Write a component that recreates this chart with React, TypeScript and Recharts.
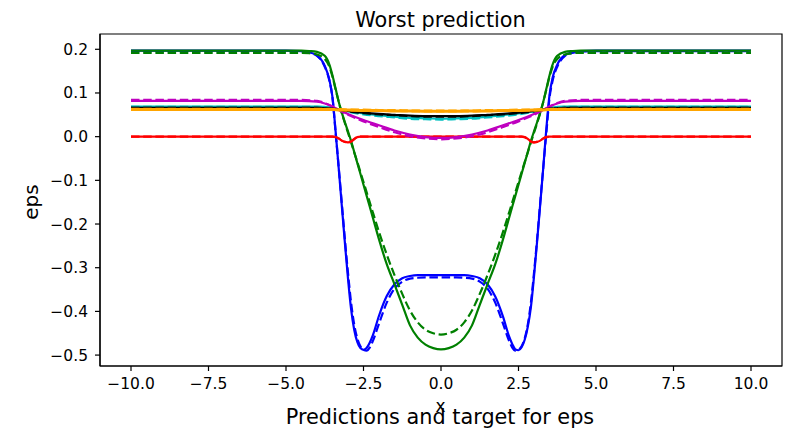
import React from "react";
import { LineChart, Line, XAxis, YAxis, ReferenceArea } from "recharts";

// ---- x grids ----
const X_STEEP = [-10, -8, -6, -5, -4.5, -4.25, -4, -3.75, -3.6, -3.5, -3.4, -3.3, -3.2, -3.1, -3, -2.9, -2.8, -2.7, -2.6, -2.5, -2.4, -2.3, -2.2, -2, -1.75, -1.5, -1.25, -1, -0.75, -0.5, -0.25, 0,
  0.25, 0.5, 0.75, 1, 1.25, 1.5, 1.75, 2, 2.2, 2.3, 2.4, 2.5, 2.6, 2.7, 2.8, 2.9, 3, 3.1, 3.2, 3.3, 3.4, 3.5, 3.6, 3.75, 4, 4.25, 4.5, 5, 6, 8, 10];
const X_SMOOTH = [-10, -8, -6, -5, -4.5, -4, -3.75, -3.5, -3.25, -3, -2.5, -2, -1.5, -1, -0.5, 0, 0.5, 1, 1.5, 2, 2.5, 3, 3.25, 3.5, 3.75, 4, 4.5, 5, 6, 8, 10];
const X_RED = [-10, -5, -3.5, -3.4, -3.3, -3.2, -3.1, -3, -2.9, -2.8, -2.7, -2.6, -2.5, 0, 2.5, 2.6, 2.7, 2.8, 2.9, 3, 3.1, 3.2, 3.3, 3.4, 3.5, 5, 10];

// ---- series values ----
const BLUE_TARGET = [0.197, 0.197, 0.197, 0.197, 0.196, 0.193, 0.186, 0.162, 0.13, 0.09, 0.012, -0.072, -0.158, -0.243, -0.325, -0.395, -0.442, -0.47, -0.484, -0.488, -0.484, -0.472, -0.455, -0.41, -0.365, -0.338, -0.324, -0.319, -0.317, -0.317, -0.317, -0.317,
  -0.317, -0.317, -0.317, -0.319, -0.324, -0.338, -0.366, -0.412, -0.458, -0.475, -0.487, -0.489, -0.482, -0.465, -0.435, -0.39, -0.32, -0.24, -0.155, -0.07, 0.02, 0.095, 0.135, 0.165, 0.187, 0.193, 0.196, 0.197, 0.197, 0.197, 0.197];
const BLUE_PRED = [0.196, 0.196, 0.196, 0.196, 0.195, 0.192, 0.185, 0.16, 0.128, 0.088, 0.01, -0.07, -0.152, -0.235, -0.312, -0.38, -0.43, -0.462, -0.48, -0.488, -0.49, -0.483, -0.468, -0.428, -0.38, -0.348, -0.332, -0.325, -0.323, -0.322, -0.322, -0.322,
  -0.322, -0.322, -0.323, -0.325, -0.332, -0.348, -0.38, -0.428, -0.468, -0.483, -0.49, -0.488, -0.48, -0.462, -0.43, -0.38, -0.312, -0.235, -0.152, -0.07, 0.01, 0.088, 0.128, 0.16, 0.185, 0.192, 0.195, 0.196, 0.196, 0.196, 0.196];
const GREEN_TARGET = [0.197, 0.197, 0.197, 0.197, 0.197, 0.196, 0.194, 0.185, 0.165, 0.14, 0.11, 0.08, 0.055, 0.033, 0.012, -0.01, -0.035, -0.06, -0.085, -0.11, -0.135, -0.16, -0.185, -0.235, -0.292, -0.338, -0.385, -0.432, -0.46, -0.476, -0.484, -0.487,
  -0.484, -0.476, -0.46, -0.432, -0.385, -0.338, -0.292, -0.235, -0.185, -0.16, -0.135, -0.11, -0.085, -0.06, -0.035, -0.01, 0.012, 0.033, 0.055, 0.08, 0.11, 0.14, 0.165, 0.185, 0.194, 0.196, 0.197, 0.197, 0.197, 0.197, 0.197];
const GREEN_PRED = [0.192, 0.192, 0.192, 0.192, 0.192, 0.191, 0.188, 0.178, 0.16, 0.137, 0.108, 0.08, 0.054, 0.031, 0.009, -0.013, -0.036, -0.058, -0.081, -0.104, -0.127, -0.15, -0.173, -0.218, -0.27, -0.317, -0.36, -0.398, -0.425, -0.442, -0.45, -0.453,
  -0.45, -0.442, -0.425, -0.398, -0.36, -0.317, -0.27, -0.218, -0.173, -0.15, -0.127, -0.104, -0.081, -0.058, -0.036, -0.013, 0.009, 0.031, 0.054, 0.08, 0.108, 0.137, 0.16, 0.178, 0.188, 0.191, 0.192, 0.192, 0.192, 0.192, 0.192];

const MAGENTA_TARGET = [0.082, 0.082, 0.082, 0.082, 0.082, 0.08, 0.076, 0.069, 0.06, 0.052, 0.038, 0.026, 0.014, 0.005, -0.001, -0.003, -0.001, 0.005, 0.014, 0.026, 0.038, 0.052, 0.06, 0.069, 0.076, 0.08, 0.082, 0.082, 0.082, 0.082, 0.082];
const MAGENTA_PRED = [0.084, 0.084, 0.084, 0.084, 0.084, 0.082, 0.077, 0.069, 0.059, 0.05, 0.035, 0.022, 0.01, 0.001, -0.004, -0.006, -0.004, 0.001, 0.01, 0.022, 0.035, 0.05, 0.059, 0.069, 0.077, 0.082, 0.084, 0.084, 0.084, 0.084, 0.084];
const CYAN_TARGET = [0.069, 0.069, 0.069, 0.069, 0.069, 0.069, 0.068, 0.066, 0.061, 0.058, 0.053, 0.049, 0.046, 0.043, 0.042, 0.041, 0.042, 0.043, 0.046, 0.049, 0.053, 0.058, 0.061, 0.066, 0.068, 0.069, 0.069, 0.069, 0.069, 0.069, 0.069];
const CYAN_PRED = [0.068, 0.068, 0.068, 0.068, 0.068, 0.068, 0.067, 0.065, 0.061, 0.057, 0.051, 0.047, 0.044, 0.041, 0.04, 0.039, 0.04, 0.041, 0.044, 0.047, 0.051, 0.057, 0.061, 0.065, 0.067, 0.068, 0.068, 0.068, 0.068, 0.068, 0.068];
const BLACK_TARGET = [0.066, 0.066, 0.066, 0.066, 0.066, 0.066, 0.065, 0.064, 0.061, 0.059, 0.055, 0.052, 0.05, 0.048, 0.047, 0.047, 0.047, 0.048, 0.05, 0.052, 0.055, 0.059, 0.061, 0.064, 0.065, 0.066, 0.066, 0.066, 0.066, 0.066, 0.066];
const BLACK_PRED = [0.066, 0.066, 0.066, 0.066, 0.066, 0.066, 0.065, 0.063, 0.061, 0.058, 0.054, 0.051, 0.049, 0.047, 0.046, 0.046, 0.046, 0.047, 0.049, 0.051, 0.054, 0.058, 0.061, 0.063, 0.065, 0.066, 0.066, 0.066, 0.066, 0.066, 0.066];
const ORANGE_TARGET = [0.062, 0.062, 0.062, 0.062, 0.062, 0.062, 0.062, 0.062, 0.061, 0.061, 0.06, 0.06, 0.059, 0.059, 0.058, 0.058, 0.058, 0.059, 0.059, 0.06, 0.06, 0.061, 0.061, 0.062, 0.062, 0.062, 0.062, 0.062, 0.062, 0.062, 0.062];
const ORANGE_PRED = [0.063, 0.063, 0.063, 0.063, 0.063, 0.063, 0.063, 0.062, 0.062, 0.061, 0.061, 0.06, 0.06, 0.059, 0.059, 0.059, 0.059, 0.059, 0.06, 0.06, 0.061, 0.061, 0.062, 0.062, 0.063, 0.063, 0.063, 0.063, 0.063, 0.063, 0.063];
const RED_TARGET = [0, 0, 0, -0.001, -0.004, -0.009, -0.012, -0.013, -0.011, -0.005, -0.001, 0, 0, 0, 0, 0, -0.001, -0.005, -0.011, -0.013, -0.012, -0.009, -0.004, -0.001, 0, 0, 0];
const RED_PRED = [0, 0, 0, -0.001, -0.004, -0.009, -0.012, -0.013, -0.011, -0.006, -0.001, 0, 0, 0, 0, 0, -0.001, -0.006, -0.011, -0.013, -0.012, -0.009, -0.004, -0.001, 0, 0, 0];

// ---- ticks ----
const X_TICKS = [-10, -7.5, -5, -2.5, 0, 2.5, 5, 7.5, 10];
const Y_TICKS = [0.2, 0.1, 0, -0.1, -0.2, -0.3, -0.4, -0.5];
const X_DOMAIN = [-11, 11];
const Y_DOMAIN = [-0.525, 0.235];

const TITLE = "Worst prediction";
const X_LABEL = "Predictions and target for eps";
const X_SUB = "x";
const Y_LABEL = "eps";

const zip = (xs: number[], ys: number[]) => xs.map((x, i) => ({ x, y: ys[i] }));
const fmt = (v: number) => v.toFixed(1).replace("-", "\u2212");

const FONT = "'DejaVu Sans', sans-serif";
const DASH = "8.5 3.7";
const LW = 2.2;

type S = { xs: number[]; ys: number[]; color: string; dashed: boolean; w?: number };
const SERIES: S[] = [
  { xs: X_STEEP, ys: BLUE_TARGET, color: "#0000ff", dashed: false },
  { xs: X_STEEP, ys: BLUE_PRED, color: "#0000ff", dashed: true },
  { xs: X_STEEP, ys: GREEN_TARGET, color: "#008000", dashed: false },
  { xs: X_STEEP, ys: GREEN_PRED, color: "#008000", dashed: true },
  { xs: X_RED, ys: RED_TARGET, color: "#ff0000", dashed: false },
  { xs: X_RED, ys: RED_PRED, color: "#ff0000", dashed: true },
  { xs: X_SMOOTH, ys: CYAN_TARGET, color: "#00bfbf", dashed: false },
  { xs: X_SMOOTH, ys: CYAN_PRED, color: "#00bfbf", dashed: true },
  { xs: X_SMOOTH, ys: MAGENTA_TARGET, color: "#bf00bf", dashed: false },
  { xs: X_SMOOTH, ys: MAGENTA_PRED, color: "#bf00bf", dashed: true },
  { xs: X_SMOOTH, ys: BLACK_TARGET, color: "#000000", dashed: false },
  { xs: X_SMOOTH, ys: BLACK_PRED, color: "#000000", dashed: true },
  { xs: X_SMOOTH, ys: ORANGE_TARGET, color: "#ffa500", dashed: false, w: 3 },
  { xs: X_SMOOTH, ys: ORANGE_PRED, color: "#ffa500", dashed: true, w: 3 },
];

export default function App() {
  return (
    <div style={{ position: "absolute", left: 0, top: 0, width: 791, height: 430, background: "#fff" }}>
      <LineChart width={791} height={430} margin={{ top: 34, right: 9, bottom: 0, left: 0 }}>
        <XAxis
          type="number"
          dataKey="x"
          domain={X_DOMAIN}
          ticks={X_TICKS}
          allowDataOverflow
          height={64}
          tickFormatter={fmt}
          tickSize={5}
          tickMargin={7}
          axisLine={{ stroke: "#000", strokeWidth: 1.2 }}
          tickLine={{ stroke: "#000", strokeWidth: 1.2 }}
          tick={{ fontSize: 15.5, fill: "#000", fontFamily: FONT }}
        />
        <YAxis
          type="number"
          domain={Y_DOMAIN}
          ticks={Y_TICKS}
          allowDataOverflow
          width={100}
          tickFormatter={fmt}
          tickSize={5}
          tickMargin={7}
          axisLine={{ stroke: "#000", strokeWidth: 1.2 }}
          tickLine={{ stroke: "#000", strokeWidth: 1.2 }}
          tick={{ fontSize: 15.5, fill: "#000", fontFamily: FONT }}
        />
        <ReferenceArea x1={X_DOMAIN[0]} x2={X_DOMAIN[1]} y1={Y_DOMAIN[0]} y2={Y_DOMAIN[1]} fill="none" stroke="#000" strokeWidth={1.2} ifOverflow="visible" />
        {SERIES.map((s, i) => (
          <Line
            key={i}
            data={zip(s.xs, s.ys)}
            dataKey="y"
            type="monotone"
            stroke={s.color}
            strokeWidth={s.w ?? LW}
            strokeDasharray={s.dashed ? DASH : undefined}
            dot={false}
            activeDot={false}
            isAnimationActive={false}
          />
        ))}
      </LineChart>
      <svg width={791} height={430} style={{ position: "absolute", left: 0, top: 0, pointerEvents: "none" }}>
        <text x={440.5} y={27} textAnchor="middle" fontSize={20.8} fontFamily={FONT} fill="#000">{TITLE}</text>
        <text x={440.5} y={412} textAnchor="middle" fontSize={17} fontFamily={FONT} fill="#000">{X_SUB}</text>
        <text x={440} y={424} textAnchor="middle" fontSize={20.8} fontFamily={FONT} fill="#000">{X_LABEL}</text>
        <text x={38} y={202} textAnchor="middle" fontSize={20} fontFamily={FONT} fill="#000" transform="rotate(-90 38 202)">{Y_LABEL}</text>
      </svg>
    </div>
  );
}
